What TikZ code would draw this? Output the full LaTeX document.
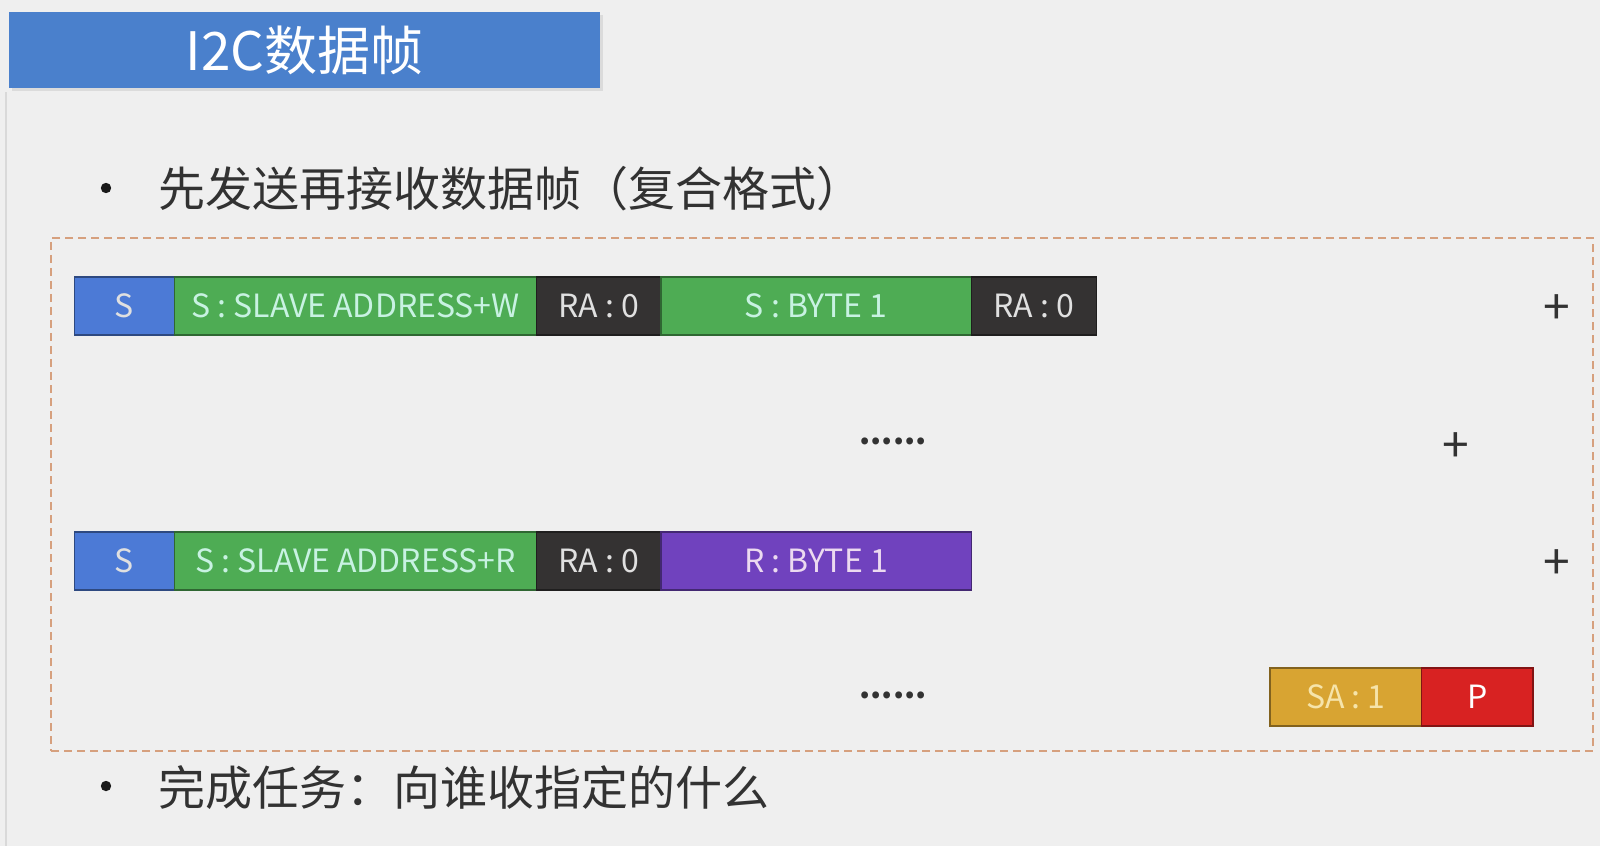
\documentclass[tikz,border=0pt]{standalone}
\usepackage{fontspec}
\setmainfont{Noto Sans CJK SC}
\definecolor{bgc}{RGB}{239,239,239}
\definecolor{titleblue}{RGB}{74,128,204}
\definecolor{sblue}{RGB}{76,122,214}
\definecolor{sgreen}{RGB}{78,172,84}
\definecolor{sdark}{RGB}{52,50,50}
\definecolor{spurple}{RGB}{112,66,190}
\definecolor{sgold}{RGB}{216,164,50}
\definecolor{sred}{RGB}{216,34,34}
\definecolor{framec}{RGB}{214,160,126}
\definecolor{txtc}{RGB}{50,50,50}
\definecolor{mint}{RGB}{200,242,226}
\definecolor{lgray}{RGB}{224,224,224}
\definecolor{lpink}{RGB}{236,218,240}
\definecolor{lyel}{RGB}{246,228,170}
\begin{document}
\begin{tikzpicture}[x=0.5pt,y=-0.5pt,
  segbase/.style={line width=0.6pt, minimum height=29pt, inner sep=0pt, outer sep=0pt, anchor=west,
    font=\fontsize{16}{16}\selectfont},
  segblue/.style={segbase, fill=sblue, draw=sblue!60!black, text=lgray},
  seggreen/.style={segbase, fill=sgreen, draw=sgreen!60!black, text=mint},
  segdark/.style={segbase, fill=sdark, draw=sdark!60!black, text=lgray},
  segpurple/.style={segbase, fill=spurple, draw=spurple!60!black, text=lpink},
  seggold/.style={segbase, fill=sgold, draw=sgold!60!black, text=lyel},
  segred/.style={segbase, fill=sred, draw=sred!60!black, text=white},
  bullettext/.style={anchor=west, inner sep=0pt, text=txtc, font=\fontsize{23.5}{23.5}\selectfont},
  bulletdot/.style={circle, fill=black!90, inner sep=0pt, minimum size=5.2pt},
  dotsnode/.style={inner sep=0pt, text=txtc, font=\fontsize{16}{16}\selectfont\bfseries},
  plusnode/.style={inner sep=0pt, text=txtc, font=\fontsize{24}{24}\selectfont},
  framebox/.style={draw=framec, line width=1pt, dash pattern=on 4pt off 2.5pt, inner sep=0pt},
]
\fill[bgc] (0,0) rectangle (1600,846);
\useasboundingbox (0,0) rectangle (1600,846);
\draw[black!15, line width=1pt] (6,92) -- (6,846);

% title
\fill[black!14] (12,15) rectangle (603,91);
\node[fill=titleblue, minimum width=295.5pt, minimum height=38pt, inner sep=0pt,
  text=white, font=\fontsize{26.5}{26.5}\selectfont] (title) at (304.5,50) {I2C数据帧};

% bullet 1
\node[bulletdot] (b1) at (106,188) {};
\node[bullettext] (t1) at (158,189) {先发送再接收数据帧（复合格式）};

% frame
\node[framebox, minimum width=771pt, minimum height=256.5pt] (frame) at (822,494.5) {};

% row 1
\node[segblue, minimum width=50pt] (r1s) at (74.5,306) {S};
\node[seggreen, minimum width=181pt] (r1a) at (r1s.east) {S : SLAVE ADDRESS+W};
\node[segdark, minimum width=62.25pt] (r1ra) at (r1a.east) {RA : 0};
\node[seggreen, minimum width=155.1pt] (r1b) at (r1ra.east) {S : BYTE 1};
\node[segdark, minimum width=62.8pt] (r1rb) at (r1b.east) {RA : 0};
\node[plusnode] (p1) at (1557,310) {+};

% dots 1
\node[dotsnode] (d1) at (893,441) {......};
\node[plusnode] (p2) at (1456,448) {+};

% row 2
\node[segblue, minimum width=50pt] (r2s) at (74.5,561) {S};
\node[seggreen, minimum width=181pt] (r2a) at (r2s.east) {S : SLAVE ADDRESS+R};
\node[segdark, minimum width=62.25pt] (r2ra) at (r2a.east) {RA : 0};
\node[segpurple, minimum width=155.1pt] (r2b) at (r2ra.east) {R : BYTE 1};
\node[plusnode] (p3) at (1557,565) {+};

% dots 2 and end
\node[dotsnode] (d2) at (893,695) {......};
\node[seggold, minimum width=75.85pt] (sa) at (1270,697) {SA : 1};
\node[segred, minimum width=55.65pt] (pp) at (sa.east) {P};

% bullet 2
\node[bulletdot] (b2) at (106,786) {};
\node[bullettext] (t2) at (158,788) {完成任务：向谁收指定的什么};
\end{tikzpicture}
\end{document}
